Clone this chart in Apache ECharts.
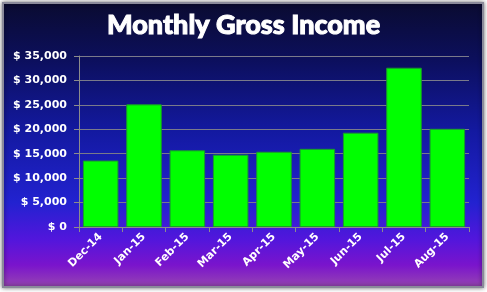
<!DOCTYPE html>
<html>
<head>
<meta charset="utf-8">
<script src="https://cdn.jsdelivr.net/npm/echarts@6/dist/echarts.min.js"></script>
<style>
  html, body { margin: 0; padding: 0; background: #fff; }
  #chart { width: 487px; height: 292px; }
</style>
</head>
<body>
<div id="chart"></div>
<script>
// data
const months = ['Dec-14', 'Jan-15', 'Feb-15', 'Mar-15', 'Apr-15', 'May-15', 'Jun-15', 'Jul-15', 'Aug-15']
const income = [13600, 25100, 15700, 14800, 15400, 16000, 19300, 32600, 20100]
const yTicks = [0, 5000, 10000, 15000, 20000, 25000, 30000, 35000]
const yTickLabels = ['$ 0', '$ 5,000', '$ 10,000', '$ 15,000', '$ 20,000', '$ 25,000', '$ 30,000', '$ 35,000']

const myChart = echarts.init(document.getElementById('chart'))

const labelFont = '"DejaVu Sans", sans-serif'

const option = {
  backgroundColor: '#ffffff',
  graphic: [
    {
      type: 'rect',
      z: -10,
      shape: {x: 3, y: 3, width: 480, height: 284},
      style: {
        fill: new echarts.graphic.LinearGradient(0, 0, 0, 1, [
          {offset: 0, color: '#0a0b30'},
          {offset: 0.2, color: '#0c0f5c'},
          {offset: 0.45, color: '#1319a0'},
          {offset: 0.7, color: '#2222d0'},
          {offset: 0.83, color: '#5216dc'},
          {offset: 0.92, color: '#7a14cc'},
          {offset: 1, color: '#9848b0'}
        ]),
        stroke: '#8a8a9a',
        lineWidth: 2,
        shadowBlur: 4,
        shadowColor: 'rgba(0,0,0,0.5)'
      }
    }
  ],
  title: {
    text: 'Monthly Gross Income',
    left: 'center',
    top: 7,
    textStyle: {
      color: '#ffffff',
      fontFamily: 'Lato, sans-serif',
      fontWeight: 900,
      fontSize: 27,
      textBorderColor: '#ffffff',
      textBorderWidth: 1
    }
  },
  grid: {
    left: 79,
    right: 18,
    top: 56,
    bottom: 65
  },
  xAxis: {
    type: 'category',
    data: months,
    axisLine: {lineStyle: {color: '#8c8c8c'}},
    axisTick: {show: true, lineStyle: {color: '#8c8c8c'}},
    axisLabel: {
      rotate: 45,
      color: '#ffffff',
      fontFamily: labelFont,
      fontWeight: 'bold',
      fontSize: 11,
      margin: 8
    }
  },
  yAxis: {
    type: 'value',
    min: 0,
    max: 35000,
    interval: 5000,
    axisLine: {show: true, lineStyle: {color: '#8c8c8c'}},
    axisTick: {show: true, lineStyle: {color: '#8c8c8c'}},
    splitLine: {lineStyle: {color: '#7a7a8a'}},
    axisLabel: {
      color: '#ffffff',
      fontFamily: labelFont,
      fontWeight: 'bold',
      fontSize: 11,
      margin: 12,
      formatter: v => yTickLabels[yTicks.indexOf(v)]
    }
  },
  series: [
    {
      type: 'bar',
      data: income,
      barCategoryGap: '18%',
      itemStyle: {
        color: '#00ff00',
        borderColor: '#1a9a2a',
        borderWidth: 1
      }
    }
  ]
}

myChart.setOption(option)
</script>
</body>
</html>
